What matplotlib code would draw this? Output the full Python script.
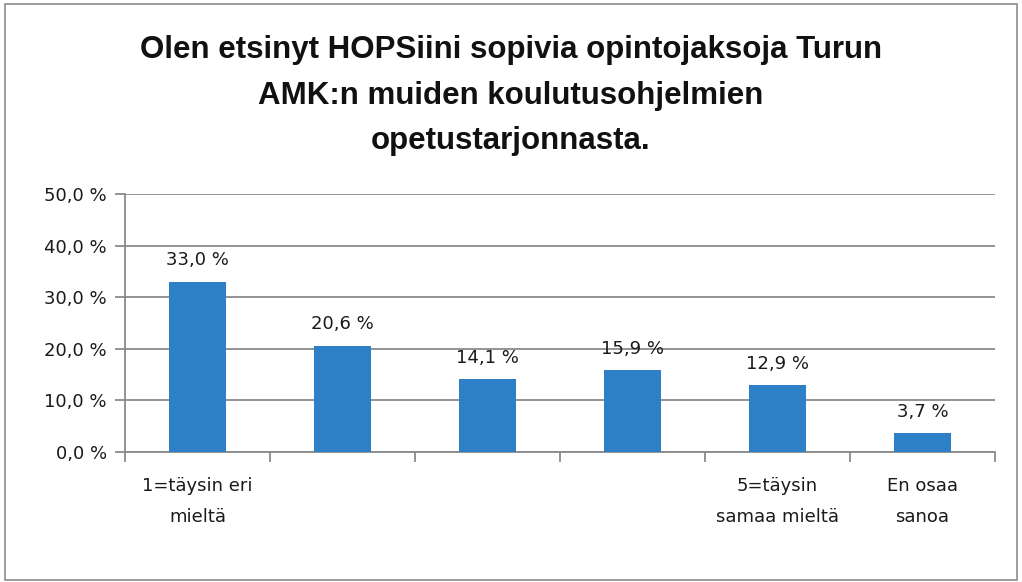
import matplotlib.pyplot as plt
import numpy as np

categories = ["1=täysin eri\nmieltä", "", "", "", "5=täysin\nsamaa mieltä", "En osaa\nsanoa"]
values = [33.0, 20.6, 14.1, 15.9, 12.9, 3.7]
yticks = [0, 10, 20, 30, 40, 50]

fig = plt.figure(figsize=(10.22, 5.82), dpi=100)
plt.rcParams['font.family'] = ['DejaVu Sans']

# outer frame
fig.patches.append(plt.Rectangle((0.005, 0.003), 0.99, 0.99, transform=fig.transFigure,
                                 fill=False, edgecolor='#8c8c8c', linewidth=1.2))

ax = fig.add_axes([0.1223, 0.2234, 0.8513, 0.4433])
x = np.arange(len(values))
ax.bar(x, values, width=0.39, color='#2d7fc6', zorder=3)

for xi, v in zip(x, values):
    ax.text(xi, v + 2.4, f"{v:.1f} %".replace('.', ','), ha='center', va='bottom',
            fontsize=13, color='#1a1a1a')

ax.set_xlim(-0.5, len(values) - 0.5)
ax.set_ylim(0, 50)
ax.set_yticks(yticks)
ax.set_yticklabels([f"{t:.1f} %".replace('.', ',') for t in yticks], fontsize=13, color='#1a1a1a')
ax.yaxis.grid(True, color='#8a8a8a', linewidth=1.3, zorder=0)

ax.set_xticks(np.arange(-0.5, len(values)))
ax.set_xticklabels([])
ax.set_xticks(x, minor=True)
ax.set_xticklabels(categories, minor=True, fontsize=13, color='#1a1a1a', linespacing=1.9, va='top')
ax.tick_params(axis='x', which='minor', length=0, pad=18)
ax.tick_params(axis='x', which='major', length=7, color='#8a8a8a', width=1.3)
ax.tick_params(axis='y', length=7, color='#8a8a8a', width=1.3, pad=6)

for s in ['top', 'right']:
    ax.spines[s].set_visible(False)
ax.spines['left'].set_color('#8a8a8a')
ax.spines['left'].set_linewidth(1.3)
ax.spines['bottom'].set_color('#8a8a8a')
ax.spines['bottom'].set_linewidth(1.3)

fig.text(0.5, 0.94, "Olen etsinyt HOPSiini sopivia opintojaksoja Turun\nAMK:n muiden koulutusohjelmien\nopetustarjonnasta.",
         ha='center', va='top', fontsize=22.5, fontweight='bold', linespacing=1.68, color='#111111',
         family='Liberation Sans')

fig.savefig('out.png', dpi=100)
